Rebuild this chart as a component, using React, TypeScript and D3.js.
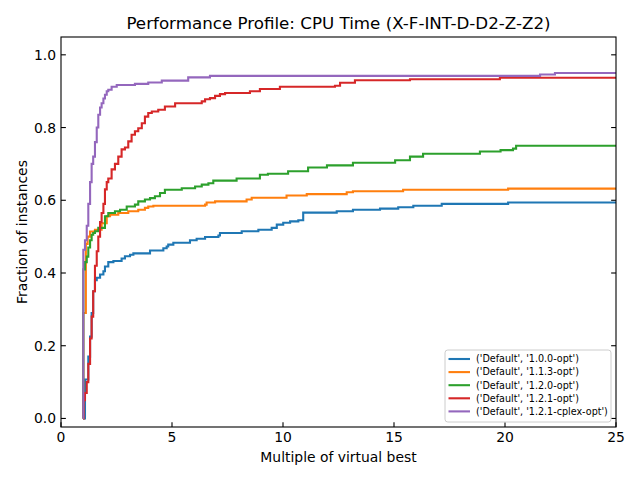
import React from "react";
import * as d3 from "d3";

const seriesNames = [
  "('Default', '1.0.0-opt')",
  "('Default', '1.1.3-opt')",
  "('Default', '1.2.0-opt')",
  "('Default', '1.2.1-opt')",
  "('Default', '1.2.1-cplex-opt')",
];
const seriesColors = ["#1f77b4", "#ff7f0e", "#2ca02c", "#d62728", "#9467bd"];

const blueX = [1.0, 1.08, 1.23, 1.31, 1.38, 1.45, 1.53, 1.61, 1.76, 1.91, 1.98, 2.13, 2.36, 2.73, 2.88, 3.11, 3.26, 4.01, 4.61, 4.76, 4.83, 5.06, 5.81, 6.11, 6.49, 7.09, 7.16, 8.14, 8.89, 9.49, 9.72, 10.01, 10.32, 10.69, 10.91, 12.42, 13.15, 14.37, 15.19, 15.87, 17.15, 20.14];
const blueY = [0.0, 0.107, 0.17, 0.225, 0.29, 0.35, 0.38, 0.387, 0.396, 0.405, 0.418, 0.43, 0.433, 0.44, 0.446, 0.45, 0.454, 0.462, 0.468, 0.473, 0.478, 0.483, 0.49, 0.494, 0.499, 0.503, 0.51, 0.515, 0.519, 0.524, 0.533, 0.538, 0.542, 0.545, 0.566, 0.57, 0.574, 0.577, 0.581, 0.585, 0.59, 0.594];

const orangeX = [1.0, 1.005, 1.12, 1.2, 1.31, 1.53, 1.83, 2.06, 2.21, 2.58, 3.03, 3.48, 3.78, 3.93, 4.16, 6.49, 6.56, 6.94, 8.36, 8.59, 10.16, 11.07, 12.87, 13.15, 15.41, 20.14];
const orangeY = [0.0, 0.29, 0.48, 0.5, 0.514, 0.519, 0.537, 0.556, 0.56, 0.565, 0.57, 0.574, 0.579, 0.583, 0.585, 0.588, 0.594, 0.597, 0.602, 0.607, 0.613, 0.617, 0.622, 0.625, 0.629, 0.632];

const greenX = [1.0, 1.005, 1.08, 1.16, 1.23, 1.31, 1.38, 1.45, 1.53, 1.68, 1.98, 2.13, 2.43, 2.66, 2.96, 3.33, 3.48, 3.78, 4.01, 4.23, 4.46, 4.68, 5.44, 6.04, 6.34, 6.64, 6.86, 7.91, 8.96, 9.32, 10.23, 11.13, 11.98, 13.15, 15.05, 15.72, 16.31, 18.87, 19.8, 20.36, 20.5];
const greenY = [0.0, 0.41, 0.43, 0.445, 0.47, 0.49, 0.505, 0.51, 0.515, 0.524, 0.556, 0.565, 0.57, 0.574, 0.583, 0.588, 0.597, 0.602, 0.606, 0.611, 0.62, 0.629, 0.633, 0.638, 0.643, 0.647, 0.654, 0.66, 0.67, 0.673, 0.68, 0.69, 0.696, 0.703, 0.71, 0.72, 0.728, 0.734, 0.738, 0.742, 0.75];

const redX = [1.0, 1.02, 1.08, 1.16, 1.23, 1.31, 1.38, 1.45, 1.53, 1.61, 1.68, 1.76, 1.83, 1.91, 1.98, 2.06, 2.13, 2.28, 2.43, 2.58, 2.73, 2.88, 3.03, 3.18, 3.33, 3.48, 3.64, 3.78, 3.93, 4.09, 4.38, 4.68, 5.14, 6.34, 6.49, 6.71, 6.94, 7.16, 7.39, 8.51, 8.96, 9.86, 12.34, 12.57, 13.24, 15.72, 19.77];
const redY = [0.0, 0.05, 0.07, 0.1, 0.15, 0.22, 0.28, 0.35, 0.42, 0.46, 0.5, 0.54, 0.565, 0.59, 0.63, 0.65, 0.66, 0.685, 0.7, 0.72, 0.74, 0.745, 0.762, 0.78, 0.79, 0.798, 0.812, 0.83, 0.84, 0.844, 0.849, 0.858, 0.867, 0.872, 0.878, 0.881, 0.887, 0.892, 0.895, 0.9, 0.906, 0.912, 0.915, 0.923, 0.93, 0.933, 0.937];

const purpleX = [1.0, 1.005, 1.08, 1.16, 1.23, 1.31, 1.38, 1.45, 1.53, 1.61, 1.68, 1.76, 1.83, 1.91, 1.98, 2.06, 2.13, 2.28, 2.51, 3.33, 3.93, 4.54, 5.73, 6.71, 21.58, 22.25];
const purpleY = [0.0, 0.464, 0.49, 0.53, 0.59, 0.65, 0.7, 0.72, 0.76, 0.8, 0.835, 0.855, 0.867, 0.88, 0.89, 0.9, 0.904, 0.912, 0.917, 0.92, 0.924, 0.929, 0.938, 0.942, 0.946, 0.95];

const allX = [blueX, orangeX, greenX, redX, purpleX];
const allY = [blueY, orangeY, greenY, redY, purpleY];

const xTicks = [0, 5, 10, 15, 20, 25];
const yTicks = [0.0, 0.2, 0.4, 0.6, 0.8, 1.0];

const titleText = "Performance Profile: CPU Time (X-F-INT-D-D2-Z-Z2)";
const xLabelText = "Multiple of virtual best";
const yLabelText = "Fraction of instances";

export default function App() {
  const W = 640, H = 480;
  const left = 61, right = 616, top = 37, bottom = 427;
  const x = d3.scaleLinear().domain([0, 25]).range([left, right]);
  const y = d3.scaleLinear().domain([-0.0235, 1.049]).range([bottom, top]);
  const line = d3
    .line<[number, number]>()
    .x((d) => x(d[0]))
    .y((d) => y(d[1]))
    .curve(d3.curveStepAfter);
  const font = "DejaVu Sans, sans-serif";
  const tickLen = 4.86;
  const cx = (left + right) / 2;
  const cy = (top + bottom) / 2;

  const paths = allX.map((xs, i) => {
    const pts: [number, number][] = xs.map((v, j) => [v, allY[i][j]]);
    pts.push([25.5, allY[i][allY[i].length - 1]]);
    return line(pts) || "";
  });

  const legX = 445, legY = 350, legW = 166, legH = 72;
  const rowStep = 13.1;

  return (
    <svg
      width={W}
      height={H}
      style={{ position: "absolute", left: 0, top: 0, background: "#fff" }}
      fontFamily={font}
    >
      <rect x={0} y={0} width={W} height={H} fill="#fff" />
      <defs>
        <clipPath id="plotclip">
          <rect x={left} y={top} width={right - left} height={bottom - top} />
        </clipPath>
      </defs>
      <g clipPath="url(#plotclip)">
        {paths.map((d, i) => (
          <path key={i} d={d} fill="none" stroke={seriesColors[i]} strokeWidth={2.1} />
        ))}
      </g>
      {/* ticks */}
      {xTicks.map((t) => (
        <g key={"x" + t}>
          <line x1={x(t)} x2={x(t)} y1={bottom} y2={bottom - tickLen} stroke="#000" strokeWidth={1.1} />
          <text x={x(t)} y={442} fontSize={13.9} textAnchor="middle" fill="#000">
            {t}
          </text>
        </g>
      ))}
      {yTicks.map((t) => (
        <g key={"y" + t}>
          <line x1={left} x2={left + tickLen} y1={y(t)} y2={y(t)} stroke="#000" strokeWidth={1.1} />
          <line x1={right} x2={right - tickLen} y1={y(t)} y2={y(t)} stroke="#000" strokeWidth={1.1} />
          <text x={56} y={y(t)} dy="0.36em" fontSize={13.9} textAnchor="end" fill="#000">
            {t.toFixed(1)}
          </text>
        </g>
      ))}
      <rect x={left} y={top} width={right - left} height={bottom - top} fill="none" stroke="#000" strokeWidth={1.1} />
      <text x={cx} y={28.5} fontSize={16.7} textAnchor="middle" fill="#000">
        {titleText}
      </text>
      <text x={cx} y={462} fontSize={13.9} textAnchor="middle" fill="#000">
        {xLabelText}
      </text>
      <text transform={`translate(27,${cy}) rotate(-90)`} fontSize={13.9} textAnchor="middle" fill="#000">
        {yLabelText}
      </text>
      {/* legend */}
      <rect x={legX} y={legY} width={legW} height={legH} rx={2.8} fill="#fff" fillOpacity={0.8} stroke="#cccccc" strokeWidth={1} />
      {seriesNames.map((name, i) => {
        const ry = legY + 9 + i * rowStep;
        return (
          <g key={name}>
            <line x1={448.5} x2={470} y1={ry} y2={ry} stroke={seriesColors[i]} strokeWidth={2.1} />
            <text x={476} y={ry} dy="0.35em" fontSize={9.6} fill="#000">
              {name}
            </text>
          </g>
        );
      })}
    </svg>
  );
}
